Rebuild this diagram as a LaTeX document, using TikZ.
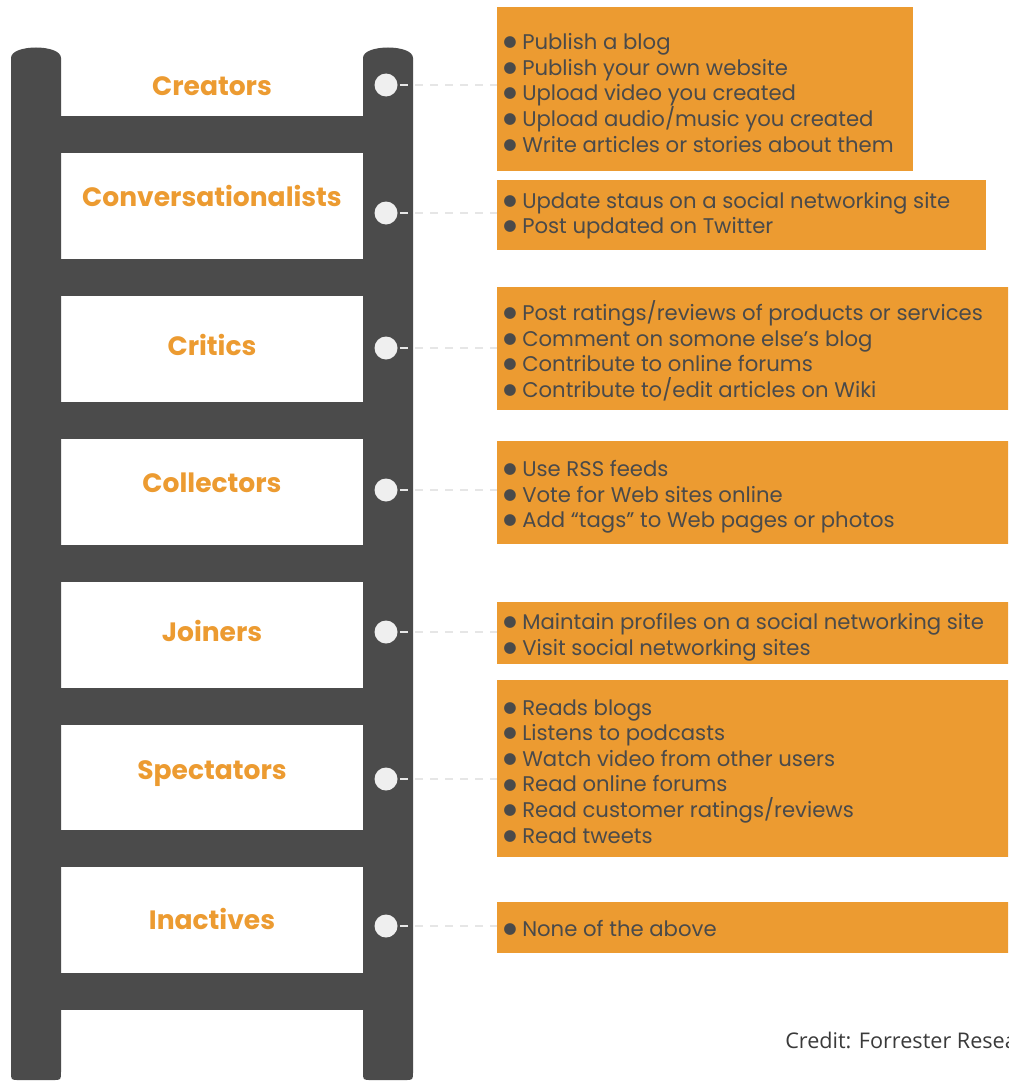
\documentclass[tikz,border=0pt]{standalone}
\usepackage{fontspec}
\setmainfont{Poppins}
\newfontfamily\creditfont{Open Sans}
\newfontfamily\symfont{DejaVu Sans}
\definecolor{rail}{HTML}{4B4B4B}
\definecolor{org}{HTML}{EC9B31}
\definecolor{txt}{HTML}{4A4A4A}
\definecolor{knobc}{HTML}{EFEFEF}
\definecolor{dashc}{HTML}{E6E6E6}
\definecolor{credc}{HTML}{3A3A3A}
\newcommand\bl{\makebox[14.25pt][l]{\raisebox{2.2pt}{\symfont\fontsize{11.5pt}{11.5pt}\selectfont ●}}}
\begin{document}
\begin{tikzpicture}[x=0.75pt,y=-0.75pt,
  railfill/.style={fill=rail},
  lab/.style={font=\fontsize{19.9pt}{24pt}\selectfont\bfseries, text=org, inner sep=0},
  knob/.style={circle, fill=knobc, minimum size=17.25pt, inner sep=0},
  conn/.style={draw=dashc, line width=2pt, dash pattern=on 6pt off 5.25pt},
  obox/.style={fill=org, anchor=north west, inner sep=0},
  btxt/.style={font=\fontsize{15.9pt}{19.2pt}\selectfont, text=txt, align=left, inner sep=0, anchor=west},
  credit/.style={font=\creditfont\fontsize{16.2pt}{19pt}\selectfont, text=credc, inner sep=0, anchor=west}]
\clip (0,0) rectangle (1008,1081);
% rails
\fill[railfill] (11,58) -- (11,1072) .. controls (11,1080) .. (19,1080) -- (53,1080) .. controls (61,1080) .. (61,1072) -- (61,58) .. controls (61,44) and (11,44) .. (11,58) -- cycle;
\fill[railfill] (363,58) -- (363,1072) .. controls (363,1080) .. (371,1080) -- (405,1080) .. controls (413,1080) .. (413,1072) -- (413,58) .. controls (413,44) and (363,44) .. (363,58) -- cycle;
% rungs
\foreach \y in {116,259,402,545,688,830,973}{
  \fill[railfill] (60,\y) rectangle (364,\y+37);
}
% labels
\node[lab] (l1) at (212,86) {Creators};
\node[lab] (l2) at (212,196) {Conversationalists};
\node[lab] (l3) at (212,345) {Critics};
\node[lab] (l4) at (212,483) {Collectors};
\node[lab] (l5) at (212,631) {Joiners};
\node[lab] (l6) at (212,774) {Spectators};
\node[lab] (l7) at (212,919) {Inactives};
% knobs
\node[knob] (k1) at (386,85) {};
\node[knob] (k2) at (386,213) {};
\node[knob] (k3) at (386,348) {};
\node[knob] (k4) at (386,490) {};
\node[knob] (k5) at (386,632) {};
\node[knob] (k6) at (386,779) {};
\node[knob] (k7) at (386,926) {};
% boxes
\node[obox, minimum width=312pt, minimum height=123pt] (b1) at (497,7) {};
\node[obox, minimum width=366.75pt, minimum height=52.5pt] (b2) at (497,180) {};
\node[obox, minimum width=390pt, minimum height=92.25pt] (b3) at (497,287) {};
\node[obox, minimum width=390pt, minimum height=77.25pt] (b4) at (497,441) {};
\node[obox, minimum width=390pt, minimum height=46.5pt] (b5) at (497,602) {};
\node[obox, minimum width=390pt, minimum height=132.75pt] (b6) at (497,680) {};
\node[obox, minimum width=390pt, minimum height=38.25pt] (b7) at (497,902) {};
% connectors
\foreach \i in {1,...,7}{
  \draw[conn] ([xshift=1.5pt]k\i.east) -- (k\i.east -| b\i.west);
}
% box texts
\node[btxt] (t1) at ([xshift=4.5pt,yshift=-2.75pt]b1.west) {\bl Publish a blog\\\bl Publish your own website\\\bl Upload video you created\\\bl Upload audio/music you created\\\bl Write articles or stories about them};
\node[btxt] (t2) at ([xshift=4.5pt,yshift=-0.25pt]b2.west) {\bl Update staus on a social networking site\\\bl Post updated on Twitter};
\node[btxt] (t3) at ([xshift=4.5pt,yshift=-1.5pt]b3.west) {\bl Post ratings/reviews of products or services\\\bl Comment on somone else’s blog\\\bl Contribute to online forums\\\bl Contribute to/edit articles on Wiki};
\node[btxt] (t4) at ([xshift=4.5pt,yshift=-3pt]b4.west) {\bl Use RSS feeds\\\bl Vote for Web sites online\\\bl Add “tags” to Web pages or photos};
\node[btxt] (t5) at ([xshift=4.5pt,yshift=-3pt]b5.west) {\bl Maintain profiles on a social networking site\\\bl Visit social networking sites};
\node[btxt] (t6) at ([xshift=4.5pt,yshift=-2pt]b6.west) {\bl Reads blogs\\\bl Listens to podcasts\\\bl Watch video from other users\\\bl Read online forums\\\bl Read customer ratings/reviews\\\bl Read tweets};
\node[btxt] (t7) at ([xshift=4.5pt,yshift=-0.5pt]b7.west) {\bl None of the above};
% credit
\node[credit] (cr) at (785,1040) {Credit: Forrester Research};
\end{tikzpicture}
\end{document}
